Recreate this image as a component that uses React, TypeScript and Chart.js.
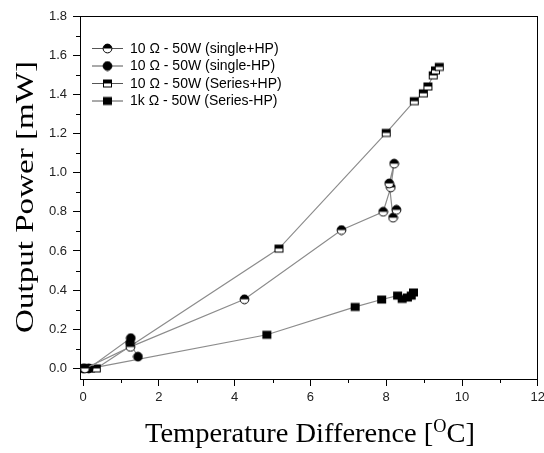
import React, { useEffect, useRef } from 'react';
import { Chart, registerables } from 'chart.js';

Chart.register(...registerables);

// ---- data ----
const seriesNames = [
  '10 Ω - 50W (single+HP)',
  '10 Ω - 50W (single-HP)',
  '10 Ω - 50W (Series+HP)',
  '1k Ω - 50W (Series-HP)',
];

const singlePlusX = [0.05, 1.25, 4.26, 6.82, 7.92, 8.12, 8.21, 8.08, 8.18, 8.27];
const singlePlusY = [0.0, 0.11, 0.353, 0.707, 0.8, 0.925, 1.046, 0.945, 0.77, 0.81];

const singleMinusX = [0.0, 0.15, 1.26, 1.24, 1.45];
const singleMinusY = [0.0, 0.0, 0.155, 0.13, 0.06];

const seriesPlusX = [0.35, 5.17, 8.0, 8.74, 8.98, 9.1, 9.24, 9.3, 9.4];
const seriesPlusY = [0.0, 0.612, 1.203, 1.365, 1.405, 1.44, 1.497, 1.522, 1.54];

const seriesMinusX = [0.1, 0.2, 4.85, 7.18, 7.88, 8.3, 8.42, 8.56, 8.66, 8.72];
const seriesMinusY = [0.0, 0.0, 0.172, 0.314, 0.352, 0.372, 0.355, 0.362, 0.372, 0.388];

const xTicks = [0, 2, 4, 6, 8, 10, 12];
const xMinorTicks = [1, 3, 5, 7, 9, 11];
const yTicks = [0, 0.2, 0.4, 0.6, 0.8, 1.0, 1.2, 1.4, 1.6, 1.8];
const yMinorTicks = [0.1, 0.3, 0.5, 0.7, 0.9, 1.1, 1.3, 1.5, 1.7];

const xTitleMain = 'Temperature Difference [';
const xTitleSup = 'O';
const xTitleEnd = 'C]';
const yTitle = 'Output Power [mW]';

// ---- markers ----
function makeMarker(kind: string): HTMLCanvasElement {
  const c = document.createElement('canvas');
  c.width = 11;
  c.height = 11;
  const g = c.getContext('2d') as CanvasRenderingContext2D;
  g.strokeStyle = '#000';
  g.lineWidth = 1;
  if (kind === 'halfCircle' || kind === 'circle') {
    const cx = 5.5, cy = 5.5, r = 4.4;
    g.beginPath();
    g.arc(cx, cy, r, 0, Math.PI * 2);
    g.fillStyle = kind === 'circle' ? '#000' : '#fff';
    g.fill();
    if (kind === 'halfCircle') {
      g.beginPath();
      g.arc(cx, cy, r, Math.PI, Math.PI * 2);
      g.closePath();
      g.fillStyle = '#000';
      g.fill();
    }
    g.beginPath();
    g.arc(cx, cy, r, 0, Math.PI * 2);
    g.stroke();
  } else {
    const x0 = 1.5, y0 = 2, w = 8, h = 7;
    g.fillStyle = kind === 'square' ? '#000' : '#fff';
    g.fillRect(x0, y0, w, h);
    if (kind === 'halfSquare') {
      g.fillStyle = '#000';
      g.fillRect(x0, y0, w, h / 2);
    }
    g.strokeRect(x0, y0, w, h);
  }
  return c;
}

function toPoints(xs: number[], ys: number[]) {
  return xs.map((x, i) => ({ x, y: ys[i] }));
}

export default function App() {
  const ref = useRef<HTMLCanvasElement | null>(null);

  useEffect(() => {
    document.body.style.margin = '0';
    document.body.style.overflow = 'hidden';
    const canvas = ref.current;
    if (!canvas) return;

    const markers = [
      makeMarker('halfCircle'),
      makeMarker('circle'),
      makeMarker('halfSquare'),
      makeMarker('square'),
    ];
    const lineColor = '#8c8c8c';

    const overlay = {
      id: 'overlay',
      afterDraw(chart: any) {
        const ctx = chart.ctx as CanvasRenderingContext2D;
        const { left, right, top, bottom } = chart.chartArea;
        const xs = chart.scales.x;
        const ys = chart.scales.y;
        ctx.save();
        // frame top & right
        ctx.strokeStyle = '#000';
        ctx.lineWidth = 1;
        ctx.beginPath();
        ctx.moveTo(Math.round(left), Math.round(top) + 0.5);
        ctx.lineTo(Math.round(right), Math.round(top) + 0.5);
        ctx.moveTo(Math.round(right) - 0.5, Math.round(top));
        ctx.lineTo(Math.round(right) - 0.5, Math.round(bottom));
        // minor ticks
        for (const v of xMinorTicks) {
          const px = Math.round(xs.getPixelForValue(v)) + 0.5;
          ctx.moveTo(px, Math.round(bottom));
          ctx.lineTo(px, Math.round(bottom) + 4);
        }
        for (const v of yMinorTicks) {
          const py = Math.round(ys.getPixelForValue(v)) + 0.5;
          ctx.moveTo(Math.round(left), py);
          ctx.lineTo(Math.round(left) - 4, py);
        }
        ctx.stroke();

        // legend
        ctx.font = '14px "Liberation Sans", Arial, sans-serif';
        ctx.textBaseline = 'middle';
        ctx.fillStyle = '#000';
        const rows = [48, 65.5, 83, 100.5];
        seriesNames.forEach((name, i) => {
          const y = rows[i];
          ctx.strokeStyle = '#555';
          ctx.beginPath();
          ctx.moveTo(92, y + 0.5);
          ctx.lineTo(123, y + 0.5);
          ctx.stroke();
          const m = markers[i];
          ctx.drawImage(m, 107.5 - m.width / 2, y + 0.5 - m.height / 2);
          ctx.fillText(name, 130, y + 1);
        });

        // y title
        ctx.save();
        ctx.font = '26px "Liberation Serif", "Times New Roman", serif';
        ctx.textAlign = 'center';
        ctx.textBaseline = 'alphabetic';
        const yw = ctx.measureText(yTitle).width;
        ctx.translate(33, 197);
        ctx.rotate(-Math.PI / 2);
        ctx.scale(272 / yw, 1);
        ctx.fillText(yTitle, 0, 0);
        ctx.restore();

        // x title with superscript
        ctx.save();
        const mainFont = '28px "Liberation Serif", "Times New Roman", serif';
        const supFont = '18px "Liberation Serif", "Times New Roman", serif';
        ctx.textBaseline = 'alphabetic';
        ctx.font = mainFont;
        const w1 = ctx.measureText(xTitleMain).width;
        const w3 = ctx.measureText(xTitleEnd).width;
        ctx.font = supFont;
        const w2 = ctx.measureText(xTitleSup).width;
        const total = w1 + w2 + w3;
        ctx.translate(145, 442);
        ctx.scale(330 / total, 1);
        ctx.font = mainFont;
        ctx.fillText(xTitleMain, 0, 0);
        ctx.font = supFont;
        ctx.fillText(xTitleSup, w1, -10);
        ctx.font = mainFont;
        ctx.fillText(xTitleEnd, w1 + w2, 0);
        ctx.restore();

        ctx.restore();
      },
    };

    const mkDs = (i: number, xs: number[], ys: number[]) => ({
      label: seriesNames[i],
      data: toPoints(xs, ys),
      showLine: true,
      borderColor: lineColor,
      borderWidth: 1.2,
      pointStyle: markers[i],
      pointRadius: 5,
      pointHoverRadius: 5,
      backgroundColor: '#000',
      tension: 0,
      order: i,
    });

    const chart = new Chart(canvas, {
      type: 'scatter',
      data: {
        datasets: [
          mkDs(0, singlePlusX, singlePlusY),
          mkDs(1, singleMinusX, singleMinusY),
          mkDs(2, seriesPlusX, seriesPlusY),
          mkDs(3, seriesMinusX, seriesMinusY),
        ],
      },
      options: {
        responsive: false,
        animation: false,
        devicePixelRatio: 1,
        layout: { padding: { top: 16, right: 4, left: 0, bottom: 0 } },
        plugins: {
          legend: { display: false },
          tooltip: { enabled: false },
        },
        scales: {
          x: {
            type: 'linear',
            min: -0.08,
            max: 12,
            afterBuildTicks: (s: any) => {
              s.ticks = xTicks.map((v) => ({ value: v }));
            },
            afterFit: (s: any) => {
              s.height = 74;
              s.paddingLeft = 0;
              s.paddingRight = 0;
            },
            grid: {
              display: true,
              drawOnChartArea: false,
              drawTicks: true,
              tickLength: 7,
              color: '#000',
              lineWidth: 1,
            },
            border: { display: true, color: '#000', width: 1 },
            ticks: {
              color: '#222',
              padding: 4,
              maxRotation: 0,
              autoSkip: false,
              font: { family: '"Liberation Sans", Arial, sans-serif', size: 13 },
              callback: (v: any) => String(v),
            },
          },
          y: {
            type: 'linear',
            min: -0.054,
            max: 1.8,
            afterBuildTicks: (s: any) => {
              s.ticks = yTicks.map((v) => ({ value: v }));
            },
            afterFit: (s: any) => {
              s.width = 80;
              s.paddingTop = 0;
              s.paddingBottom = 0;
            },
            grid: {
              display: true,
              drawOnChartArea: false,
              drawTicks: true,
              tickLength: 7,
              color: '#000',
              lineWidth: 1,
            },
            border: { display: true, color: '#000', width: 1 },
            ticks: {
              color: '#222',
              padding: 6,
              autoSkip: false,
              font: { family: '"Liberation Sans", Arial, sans-serif', size: 13 },
              callback: (v: any) => Number(v).toFixed(1),
            },
          },
        },
      },
      plugins: [overlay],
    });

    return () => {
      chart.destroy();
    };
  }, []);

  return (
    <div style={{ width: 544, height: 453, background: '#fff' }}>
      <canvas ref={ref} width={544} height={453} style={{ display: 'block' }} />
    </div>
  );
}
